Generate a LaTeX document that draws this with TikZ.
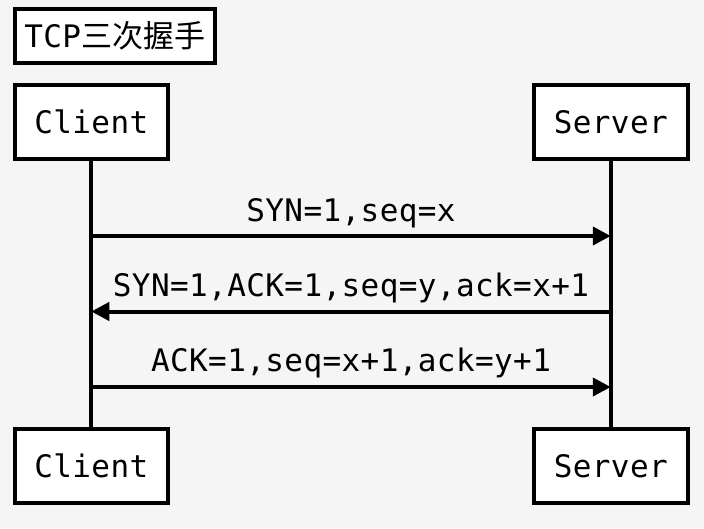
\documentclass[tikz,border=0pt]{standalone}
\usepackage{fontspec}
\setmonofont{DejaVu Sans Mono}[LetterSpace=1.3]
\newfontfamily\cjk{Noto Sans CJK SC}
\usetikzlibrary{arrows.meta}
\definecolor{bgpaper}{RGB}{245,245,245}
\tikzset{
  box/.style={draw=black, fill=white, line width=4pt, inner sep=0pt,
              minimum width=153.5pt, minimum height=74pt,
              font=\ttfamily\fontsize{31}{31}\selectfont},
  lifeline/.style={draw=black, line width=4pt},
  msg/.style={draw=black, line width=4pt, -{Triangle[length=18pt,width=18pt]}},
  msgtext/.style={anchor=base, inner sep=0pt, font=\ttfamily\fontsize{31}{31}\selectfont}
}
\begin{document}
\begin{tikzpicture}[x=1pt,y=-1pt]
\fill[bgpaper] (0,0) rectangle (704,528);
\useasboundingbox (0,0) rectangle (704,528);
% title
\node[box, minimum width=200.5pt, minimum height=53.5pt] (title) at (114.75,35.75) {TCP{\cjk 三次握手}};
% participants
\node[box] (c1) at (91.25,121.75) {Client};
\node[box] (s1) at (610.75,121.75) {Server};
\node[box] (c2) at (91.25,465.75) {Client};
\node[box] (s2) at (610.75,465.75) {Server};
% lifelines
\draw[lifeline] (c1) -- (c2);
\draw[lifeline] (s1) -- (s2);
% message anchor points
\coordinate (m1c) at (91.25,236);
\coordinate (m1s) at (610.75,236);
\coordinate (m2c) at (91.25,311.5);
\coordinate (m2s) at (610.75,311.5);
\coordinate (m3c) at (91.25,387);
\coordinate (m3s) at (610.75,387);
\draw[msg] (m1c) -- (m1s);
\draw[msg] (m2s) -- (m2c);
\draw[msg] (m3c) -- (m3s);
\node[msgtext] (t1) at (351,221) {SYN=1,seq=x};
\node[msgtext] (t2) at (351,296) {SYN=1,ACK=1,seq=y,ack=x+1};
\node[msgtext] (t3) at (351,371.5) {ACK=1,seq=x+1,ack=y+1};
\end{tikzpicture}
\end{document}
